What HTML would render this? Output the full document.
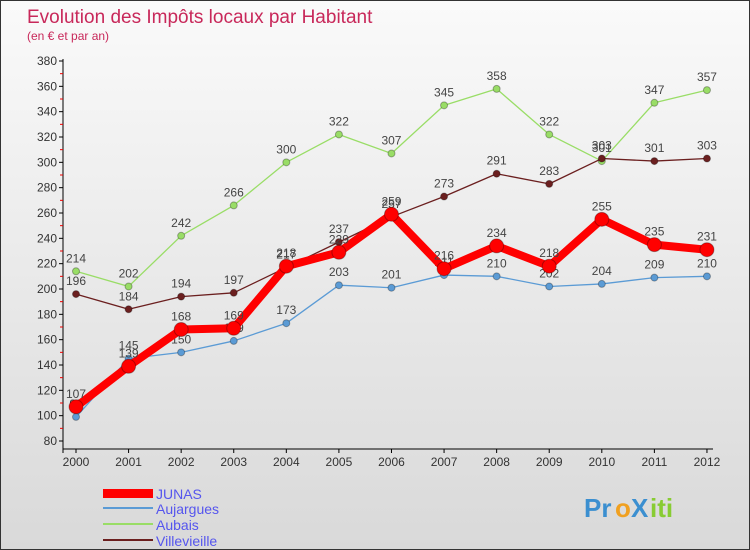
<!DOCTYPE html>
<html><head><meta charset="utf-8"><style>
body{margin:0}
#c{width:750px;height:550px;position:relative;box-sizing:border-box;border:1px solid #333;background:linear-gradient(#fafafa,#d9d9d9);font-family:"Liberation Sans",sans-serif;overflow:hidden}
</style></head><body>
<div id="c">
<svg id="s" width="750" height="550" style="position:absolute;left:0;top:0">
<text x="26" y="22" font-size="19" fill="#c8285a">Evolution des Impôts locaux par Habitant</text>
<text x="26" y="39" font-size="12" fill="#c8285a">(en € et par an)</text>
<g id="axes"></g><g id="series"></g>
<g>
<rect x="102" y="488" width="50" height="9" fill="#ff0000"/>
<text x="155" y="498" font-size="14" fill="#5555ee">JUNAS</text>
<rect x="102" y="506" width="50" height="2" fill="#5b9bd5"/>
<text x="155" y="513" font-size="14" fill="#5555ee">Aujargues</text>
<rect x="102" y="522" width="50" height="2" fill="#99dd66"/>
<text x="155" y="529" font-size="14" fill="#5555ee">Aubais</text>
<rect x="102" y="538" width="50" height="2" fill="#6b1f1f"/>
<text x="155" y="545" font-size="14" fill="#5555ee">Villevieille</text>
</g>
<g font-size="26" font-weight="bold">
<text x="583" y="516" fill="#3b8fd0">Pr</text><text x="614" y="516" fill="#f0a020">o</text><text x="630" y="516" fill="#3b8fd0">X</text><text x="649" y="516" fill="#88cc33">iti</text>
</g>
</svg>
</div>
<script>
const years=[2000,2001,2002,2003,2004,2005,2006,2007,2008,2009,2010,2011,2012];
const yTicks=[80,100,120,140,160,180,200,220,240,260,280,300,320,340,360,380];
const junas=[107,139,168,169,218,229,259,216,234,218,255,235,231];
const aujargues=[99,145,150,159,173,203,201,211,210,202,204,209,210];
const aubais=[214,202,242,266,300,322,307,345,358,322,301,347,357];
const villevieille=[196,184,194,197,217,237,257,273,291,283,303,301,303];
const NS="http://www.w3.org/2000/svg";
const X=i=>75+i*52.58;
const Y=v=>440-(v-80)*380/300;
function mk(p,t,a){const e=document.createElementNS(NS,t);for(const k in a)e.setAttribute(k,a[k]);p.appendChild(e);return e;}
const ax=document.getElementById('axes'),se=document.getElementById('series');
let l=mk(ax,'line',{x1:62,y1:58,x2:62,y2:452,stroke:'#000'});


l=mk(ax,'line',{x1:62,y1:448,x2:712,y2:448,stroke:'#000'});


yTicks.forEach((v,i)=>{
 mk(ax,'line',{x1:58,y1:Y(v),x2:62,y2:Y(v),stroke:'#000'});
 if(i<yTicks.length-1)mk(ax,'line',{x1:59,y1:Y(v+10),x2:62,y2:Y(v+10),stroke:'#e00'});
 const t=mk(ax,'text',{x:56,y:Y(v)+4,'font-size':12,fill:'#333','text-anchor':'end'});t.textContent=v;
 
 
});
years.forEach((yr,i)=>{
 mk(ax,'line',{x1:X(i),y1:448,x2:X(i),y2:452,stroke:'#000'});
 const t=mk(ax,'text',{x:X(i),y:465,'font-size':12,fill:'#333','text-anchor':'middle'});t.textContent=yr;
 
 
});
function series(d,col,w,r,name){
 const g=mk(se,'g',{});
 
 
 mk(g,'polyline',{points:d.map((v,i)=>X(i)+','+Y(v)).join(' '),fill:'none',stroke:col,'stroke-width':w,'stroke-linejoin':'round'});
 d.forEach((v,i)=>{
  const c=mk(g,'circle',{cx:X(i),cy:Y(v),r:r,fill:col,stroke:'rgba(0,0,0,0.3)','stroke-width':1});
  
  
  const t=mk(g,'text',{x:X(i),y:Y(v)-9,'font-size':12,fill:'#444','text-anchor':'middle'});t.textContent=v;
  
  
 });
}
series(aujargues,'#5b9bd5',1.3,3.5,'aujargues');
series(aubais,'#99dd66',1.3,3.5,'aubais');
series(villevieille,'#6b1f1f',1.3,3.5,'villevieille');
series(junas,'#ff0000',8,7,'junas');
</script>
</body></html>
